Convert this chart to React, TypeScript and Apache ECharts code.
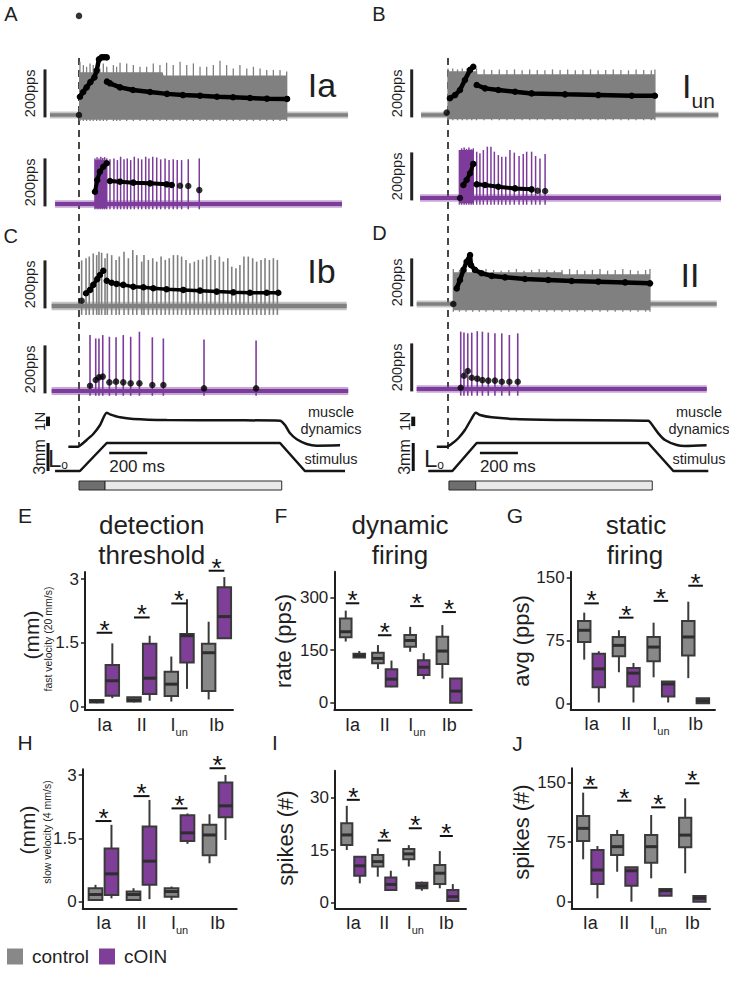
import React, { useEffect, useRef } from "react";
import * as echarts from "echarts";

const FONT = "'Liberation Sans', Arial, Helvetica, sans-serif";
const INK = "#1f1f1f";
const GRAY_TRACE = "#808080";
const PURPLE_TRACE = "#7d3c9b";
const GRAY_BOX = "#888888";
const PURPLE_BOX = "#7f3f99";
const BOX_EDGE = "#3a3a3a";

/* ===== Spike trains A-D : time (ms) from stretch onset, voltage (a.u.), instantaneous rate (pps) ===== */
// A - Ia
const aGrayBand = [-153, 1416];
const aGraySpikeT = [5, 23, 40, 58, 75, 93, 110, 128, 146, 181, 198, 216, 251, 286, 321, 356, 391, 426, 461, 496, 532, 567, 602, 637, 672, 707, 742, 777, 812, 847, 883, 918, 953, 988, 1023, 1058, 1093];
const aGraySpikeV = [222, 208, 201, 215, 208, 201, 194, 215, 201, 208, 201, 218, 215, 208, 201, 201, 215, 208, 218, 208, 222, 208, 215, 201, 201, 208, 226, 208, 194, 208, 194, 201, 194, 188, 188, 188, 181];
const aGrayTrough = -25;
const aGrayBodyT = [0, 440, 445, 1095];
const aGrayBodyV = [178, 178, 165, 165];
const aGrayRateIsoT = [0, 0];
const aGrayRateIsoV = [0, 413];
const aGrayRateDynT = [5, 22, 40, 60, 81, 93, 105, 119, 132, 146];
const aGrayRateDynV = [76, 96, 115, 137, 157, 185, 232, 240, 241, 240];
const aGrayRateStatT = [147, 163, 216, 284, 374, 463, 547, 637, 726, 811, 900, 989, 1095];
const aGrayRateStatV = [139, 132, 115, 104, 96, 88, 83, 80, 76, 74, 71, 68, 67];

const aCoinBand = [-126, 1384];
const aCoinSpikeT = [84, 95, 105, 115, 125, 135, 146, 163, 184, 202, 219, 237, 254, 272, 291, 312, 330, 351, 368, 388, 409, 430, 453, 474, 496, 517, 540, 575, 633];
const aCoinSpikeV = [190, 195, 190, 197, 192, 195, 190, 186, 190, 183, 197, 186, 190, 183, 197, 190, 186, 197, 190, 197, 194, 186, 190, 183, 186, 183, 183, 186, 190];
const aCoinTrough = -22;
const aCoinBodyT = [84, 146];
const aCoinBodyV = [183, 183];
const aCoinRateDynT = [84, 96, 110, 128, 146];
const aCoinRateDynV = [51, 100, 135, 155, 170];
const aCoinRateStatT = [163, 216, 286, 374, 461, 488];
const aCoinRateStatV = [96, 93, 89, 86, 82, 79];
const aCoinRateIsoT = [532, 575, 633];
const aCoinRateIsoV = [76, 75, 58];

// B - Iun
const bGrayBand = [-142, 1423];
const bGraySpikeT = [0, 25, 50, 75, 100, 125, 150, 190, 230, 270, 310, 350, 390, 430, 470, 510, 550, 590, 630, 670, 710, 750, 790, 830, 870, 910, 950, 990, 1030, 1070, 1089];
const bGraySpikeV = [194, 194, 190, 194, 194, 190, 194, 190, 188, 190, 188, 190, 186, 190, 188, 186, 190, 188, 190, 186, 188, 190, 186, 188, 190, 188, 186, 190, 188, 186, 190];
const bGrayTrough = -22;
const bGrayBodyT = [0, 150, 155, 1089];
const bGrayBodyV = [182, 182, 170, 170];
const bGrayRateIsoT = [-7];
const bGrayRateIsoV = [10];
const bGrayRateDynT = [10, 37, 63, 89, 116, 133];
const bGrayRateDynV = [70, 83, 104, 146, 188, 201];
const bGrayRateStatT = [151, 195, 265, 353, 440, 616, 791, 967, 1089];
const bGrayRateStatV = [125, 111, 104, 97, 90, 86, 83, 80, 80];

const bCoinBand = [-147, 1437];
const bCoinSpikeT = [60, 72, 85, 97, 110, 122, 133, 151, 168, 186, 207, 226, 244, 265, 283, 304, 326, 349, 374, 396, 414, 440, 461, 484, 511];
const bCoinSpikeV = [200, 207, 210, 205, 210, 203, 207, 193, 186, 200, 214, 214, 193, 179, 172, 172, 200, 189, 175, 183, 193, 193, 175, 165, 183];
const bCoinTrough = -28;
const bCoinBodyT = [60, 133];
const bCoinBodyV = [200, 200];
const bCoinRateIsoT = [63, 472, 511];
const bCoinRateIsoV = [0, 30, 29];
const bCoinRateDynT = [81, 98, 116, 133];
const bCoinRateDynV = [54, 75, 103, 142];
const bCoinRateStatT = [151, 195, 265, 353, 440];
const bCoinRateStatV = [57, 54, 47, 40, 36];

// C - Ib
const cGrayBand = [-144, 1409];
const cGraySpikeT = [14, 37, 54, 75, 93, 105, 119, 137, 149, 172, 195, 212, 237, 260, 283, 304, 330, 342, 365, 388, 409, 432, 454, 475, 497, 519, 540, 563, 584, 607, 628, 651, 672, 693, 716, 739, 760, 783, 804, 826, 847, 868, 891, 914, 935, 958, 979, 1002, 1023, 1044];
const cGraySpikeV = [190, 199, 206, 219, 212, 226, 222, 199, 219, 212, 192, 206, 226, 199, 233, 212, 185, 212, 192, 199, 185, 206, 192, 199, 212, 212, 206, 192, 178, 185, 192, 194, 206, 212, 192, 206, 185, 199, 164, 157, 171, 206, 206, 199, 185, 192, 199, 192, 199, 192];
const cGrayTrough = -37;
const cGrayRateIsoT = [14];
const cGrayRateIsoV = [22];
const cGrayRateDynT = [37, 58, 75, 96, 110, 128];
const cGrayRateDynV = [53, 67, 88, 112, 129, 147];
const cGrayRateStatT = [146, 172, 198, 233, 286, 339, 391, 461, 549, 637, 725, 812, 900, 988, 1049];
const cGrayRateStatV = [105, 97, 92, 88, 80, 78, 74, 70, 67, 64, 60, 57, 55, 55, 55];

const cCoinBand = [-144, 1417];
const cCoinSpikeT = [58, 88, 105, 125, 160, 195, 233, 272, 318, 386, 444, 658, 932];
const cCoinSpikeV = [233, 219, 219, 233, 226, 224, 233, 226, 247, 224, 219, 215, 210];
const cCoinTrough = -20;
const cCoinRateT = [58, 88, 105, 125, 160, 195, 233, 272, 318, 386, 444, 658, 932];
const cCoinRateV = [22, 46, 57, 60, 36, 39, 36, 32, 32, 25, 25, 11, 11];

// D - II
const dGrayBand = [-165, 1414];
const dGraySpikeT = [28, 60, 95, 130, 165, 200, 240, 280, 320, 360, 400, 440, 480, 520, 560, 600, 640, 680, 720, 760, 800, 840, 880, 920, 960, 1000, 1040, 1063];
const dGraySpikeV = [146, 142, 146, 142, 139, 146, 142, 139, 142, 146, 139, 142, 146, 142, 139, 142, 146, 142, 139, 142, 146, 139, 142, 146, 142, 139, 142, 146];
const dGrayTrough = -32;
const dGrayBodyT = [28, 600, 605, 1063];
const dGrayBodyV = [132, 132, 124, 124];
const dGrayRateIsoT = [28];
const dGrayRateIsoV = [0];
const dGrayRateT = [46, 63, 81, 98, 116, 121, 142, 177, 230, 300, 405, 528, 651, 791, 932, 1063];
const dGrayRateV = [65, 100, 142, 176, 204, 162, 142, 128, 117, 111, 104, 100, 96, 93, 90, 86];

const dCoinBand = [-165, 1362];
const dCoinSpikeT = [67, 84, 104, 125, 154, 181, 212, 247, 283, 323, 367];
const dCoinSpikeV = [239, 235, 232, 235, 241, 239, 235, 232, 232, 225, 232];
const dCoinTrough = -28;
const dCoinRateT = [67, 84, 104, 125, 154, 181, 212, 247, 283, 323, 367];
const dCoinRateV = [5, 55, 75, 47, 43, 37, 35, 35, 30, 30, 30];

/* ===== muscle force (N) and stimulus length (mm) ===== */
const lMuscleT = [-56, -4, 14, 40, 75, 111, 146, 163, 216, 286, 462, 812, 1058, 1084, 1111, 1146, 1198, 1251, 1374];
const lMuscleN = [0.03, 0.03, 0.28, 0.74, 1.37, 2.32, 3.61, 3.44, 3.13, 2.95, 2.84, 2.81, 2.77, 2.32, 1.44, 0.81, 0.32, 0.14, 0.18];
const lStimT = [-126, 5, 146, 1058, 1189, 1400];
const lStimMm = [0, 0, 3, 3, 0, 0];
const lPhaseT = [0, 137, 1067];
const rMuscleT = [-59, -7, 23, 54, 89, 125, 146, 168, 230, 353, 616, 1054, 1075, 1107, 1142, 1204, 1247, 1361];
const rMuscleN = [0.03, 0.03, 0.39, 0.92, 1.79, 3.02, 3.61, 3.37, 3.13, 2.95, 2.84, 2.77, 2.32, 1.44, 0.74, 0.21, 0.11, 0.18];
const rStimT = [-104, 23, 151, 1054, 1186, 1370];
const rStimMm = [0, 0, 3, 3, 0, 0];
const rPhaseT = [5, 146, 1075];

/* ===== box plots: [min, q1, median, q3, max] per afferent ===== */
const categories = ["Ia", "II", "Iun", "Ib"];
const eTicks = [0, 1.5, 3];
const eControl = [[0.08, 0.1, 0.13, 0.16, 0.18], [0.1, 0.12, 0.16, 0.22, 0.23], [0.12, 0.25, 0.53, 0.82, 1.18], [0.17, 0.37, 1.27, 1.48, 2.0]];
const eCoin = [[0.2, 0.26, 0.61, 0.98, 1.49], [0.14, 0.3, 0.67, 1.48, 1.67], [0.42, 1.04, 1.67, 1.71, 2.53], [1.6, 1.61, 2.12, 2.81, 3.05]];
const eSig = [1.74, 2.1, 2.43, 3.2];
const fTicks = [0, 150, 300];
const fControl = [[174, 186, 202, 240, 262], [96, 112, 126, 142, 164], [145, 159, 177, 193, 216], [69, 110, 147, 188, 221]];
const fCoin = [[127, 129, 134, 139, 147], [44, 46, 67, 95, 120], [67, 79, 101, 121, 141], [0, 0, 33, 69, 69]];
const fSig = [283, 192, 275, 258];
const gTicks = [0, 75, 150];
const gControl = [[52, 73, 87, 98, 108], [37, 56, 69, 79, 87], [31, 50, 67, 79, 96], [30, 57, 79, 98, 121]];
const gCoin = [[1, 19, 41, 59, 62], [1, 20, 36, 42, 48], [1, 8, 23, 26, 26], [0, 0, 3, 6, 6]];
const gSig = [119, 102, 122, 140];
const hTicks = [0, 1.5, 3];
const hControl = [[0.04, 0.04, 0.17, 0.32, 0.4], [0.04, 0.04, 0.17, 0.24, 0.32], [0.04, 0.12, 0.24, 0.32, 0.36], [0.91, 1.1, 1.58, 1.82, 2.07]];
const hCoin = [[0.08, 0.16, 0.66, 1.26, 1.82], [0.06, 0.4, 0.96, 1.78, 2.41], [1.37, 1.44, 1.63, 2.05, 2.09], [1.46, 2.0, 2.27, 2.82, 3.0]];
const hSig = [1.91, 2.5, 2.21, 3.16];
const iTicks = [0, 15, 30];
const iControl = [[15, 16.4, 19.3, 22.6, 27.6], [7.4, 10.3, 11.7, 13.6, 15.5], [10.3, 12.4, 13.9, 15.3, 16.4], [4.1, 5.3, 8.4, 10.7, 14.7]];
const iCoin = [[5.5, 7.7, 10.5, 13.1, 13.3], [3.4, 3.6, 5.2, 7.2, 9.1], [3.4, 4.1, 4.8, 5.7, 6], [0.5, 0.5, 1.7, 3.6, 5.3]];
const iSig = [29.3, 17.7, 21.2, 19];
const jTicks = [0, 75, 150];
const jControl = [[53.5, 76.5, 92.5, 108, 137.5], [37.8, 59, 69.4, 84, 90.4], [29.5, 49.2, 69.4, 84, 109.3], [35.8, 68.6, 84, 106, 130.4]];
const jCoin = [[4.3, 22.3, 40, 65.2, 70.2], [0, 20.2, 39, 43.4, 43.8], [7.6, 7.6, 13.9, 16, 16], [0, 0, 4.3, 7.2, 7.2]];
const jSig = [143.8, 127.4, 119, 149.3];

/* ===== layout ===== */
const PX_MS = 0.19;
const T_MIN = -200;
const COL_T0 = [79, 448];
const COL_TMAX = [1420, 1440];
const PX_UNIT = 0.24;
const TR_MIN = -100;
const TR_MAX = 450;
const SCALE_PPS = [-10, 190];

function colGrid(col: number, top: number, height: number) {
  return { left: COL_T0[col] + T_MIN * PX_MS, top, width: (COL_TMAX[col] - T_MIN) * PX_MS, height };
}

function pairs(ts: number[], vs: number[]) {
  return ts.map((t, i) => [t, vs[i]]);
}

function buildOption() {
  const grids: any[] = [];
  const xAxes: any[] = [];
  const yAxes: any[] = [];
  const series: any[] = [];

  const traces: any[] = [
    { name: "Ia control", col: 0, base: 115, color: GRAY_TRACE, band: aGrayBand, half: 15, trough: aGrayTrough, st: aGraySpikeT, sv: aGraySpikeV, sw: 1.3, bt: aGrayBodyT, bv: aGrayBodyV, iso: [aGrayRateIsoT, aGrayRateIsoV], lines: [[aGrayRateDynT, aGrayRateDynV], [aGrayRateStatT, aGrayRateStatV]], lw: 4.5, barT: -179 },
    { name: "Ia cOIN", col: 0, base: 204, color: PURPLE_TRACE, band: aCoinBand, half: 16, trough: aCoinTrough, st: aCoinSpikeT, sv: aCoinSpikeV, sw: 1.5, bt: aCoinBodyT, bv: aCoinBodyV, iso: [aCoinRateIsoT, aCoinRateIsoV], lines: [[aCoinRateDynT, aCoinRateDynV], [aCoinRateStatT, aCoinRateStatV]], lw: 4, barT: -179 },
    { name: "Ib control", col: 0, base: 306, color: GRAY_TRACE, band: cGrayBand, half: 18, trough: cGrayTrough, st: cGraySpikeT, sv: cGraySpikeV, sw: 1.6, iso: [cGrayRateIsoT, cGrayRateIsoV], lines: [[cGrayRateDynT, cGrayRateDynV], [cGrayRateStatT, cGrayRateStatV]], lw: 3.5, barT: -179 },
    { name: "Ib cOIN", col: 0, base: 391, color: PURPLE_TRACE, band: cCoinBand, half: 17, trough: cCoinTrough, st: cCoinSpikeT, sv: cCoinSpikeV, sw: 1.6, iso: [cCoinRateT, cCoinRateV], lines: [], lw: 0, barT: -179 },
    { name: "Iun control", col: 1, base: 115, color: GRAY_TRACE, band: bGrayBand, half: 14, trough: bGrayTrough, st: bGraySpikeT, sv: bGraySpikeV, sw: 1.3, bt: bGrayBodyT, bv: bGrayBodyV, iso: [bGrayRateIsoT, bGrayRateIsoV], lines: [[bGrayRateDynT, bGrayRateDynV], [bGrayRateStatT, bGrayRateStatV]], lw: 4.5, barT: -191 },
    { name: "Iun cOIN", col: 1, base: 198, color: PURPLE_TRACE, band: bCoinBand, half: 16, trough: bCoinTrough, st: bCoinSpikeT, sv: bCoinSpikeV, sw: 1.5, bt: bCoinBodyT, bv: bCoinBodyV, iso: [bCoinRateIsoT, bCoinRateIsoV], lines: [[bCoinRateDynT, bCoinRateDynV], [bCoinRateStatT, bCoinRateStatV]], lw: 4, barT: -191 },
    { name: "II control", col: 1, base: 304, color: GRAY_TRACE, band: dGrayBand, half: 15, trough: dGrayTrough, st: dGraySpikeT, sv: dGraySpikeV, sw: 1.3, bt: dGrayBodyT, bv: dGrayBodyV, iso: [dGrayRateIsoT, dGrayRateIsoV], lines: [[dGrayRateT, dGrayRateV]], lw: 4.5, barT: -191 },
    { name: "II cOIN", col: 1, base: 389, color: PURPLE_TRACE, band: dCoinBand, half: 16, trough: dCoinTrough, st: dCoinSpikeT, sv: dCoinSpikeV, sw: 1.6, iso: [dCoinRateT, dCoinRateV], lines: [], lw: 0, barT: -191 },
  ];

  // dashed onset markers (one overlay grid per column)
  [
    { col: 0, top: 58, bottom: 447 },
    { col: 1, top: 58, bottom: 452 },
  ].forEach((d) => {
    const gi = grids.length;
    grids.push(colGrid(d.col, d.top, d.bottom - d.top));
    const xi = xAxes.length;
    xAxes.push({ gridIndex: gi, type: "value", min: T_MIN, max: COL_TMAX[d.col], show: false });
    const yi = yAxes.length;
    yAxes.push({ gridIndex: gi, type: "value", min: 0, max: 1, show: false });
    series.push({
      type: "custom", name: "onset", xAxisIndex: xi, yAxisIndex: yi, z: 1, silent: true,
      data: [[0, 0]],
      renderItem: (p: any, api: any) => {
        const x = api.coord([api.value(0), 0])[0];
        const cs = p.coordSys;
        return { type: "line", shape: { x1: x, y1: cs.y, x2: x, y2: cs.y + cs.height }, style: { stroke: "#333", lineWidth: 1.8, lineDash: [7, 5] } };
      },
    });
  });

  traces.forEach((tr) => {
    const gi = grids.length;
    grids.push(colGrid(tr.col, tr.base - TR_MAX * PX_UNIT, (TR_MAX - TR_MIN) * PX_UNIT));
    const xi = xAxes.length;
    xAxes.push({ gridIndex: gi, type: "value", min: T_MIN, max: COL_TMAX[tr.col], show: false });
    const vi = yAxes.length;
    yAxes.push({ gridIndex: gi, type: "value", name: "a.u.", min: TR_MIN, max: TR_MAX, show: false });
    const ri = yAxes.length;
    yAxes.push({ gridIndex: gi, type: "value", name: "pps", min: TR_MIN, max: TR_MAX, show: false });
    const color = tr.color;
    series.push({
      type: "custom", name: tr.name + " baseline", xAxisIndex: xi, yAxisIndex: vi, z: 2, silent: true,
      data: [[tr.band[0], tr.band[1]]],
      renderItem: (p: any, api: any) => {
        const a = api.coord([api.value(0), tr.half]);
        const b = api.coord([api.value(1), -tr.half]);
        const c = api.coord([api.value(0), tr.half * 0.5]);
        const d = api.coord([api.value(1), -tr.half * 0.5]);
        return {
          type: "group",
          children: [
            { type: "rect", shape: { x: a[0], y: a[1], width: b[0] - a[0], height: b[1] - a[1] }, style: { fill: color, opacity: 0.45 } },
            { type: "rect", shape: { x: c[0], y: c[1], width: d[0] - c[0], height: d[1] - c[1] }, style: { fill: color } },
          ],
        };
      },
    });
    if (tr.bt) {
      series.push({
        type: "custom", name: tr.name + " burst", xAxisIndex: xi, yAxisIndex: vi, z: 2, silent: true,
        data: [[tr.bt[0], tr.bv[0]]],
        renderItem: (p: any, api: any) => {
          const pts: number[][] = tr.bt.map((t: number, i: number) => api.coord([t, tr.bv[i]]));
          for (let i = tr.bt.length - 1; i >= 0; i--) pts.push(api.coord([tr.bt[i], tr.trough * 0.8]));
          return { type: "polygon", shape: { points: pts }, style: { fill: color } };
        },
      });
    }
    series.push({
      type: "custom", name: tr.name + " spikes", xAxisIndex: xi, yAxisIndex: vi, z: 3, silent: true,
      data: tr.st.map((t: number, i: number) => [t, tr.sv[i], tr.trough]),
      encode: { x: 0, y: 1 },
      renderItem: (p: any, api: any) => {
        const a = api.coord([api.value(0), api.value(1)]);
        const b = api.coord([api.value(0), api.value(2)]);
        return { type: "line", shape: { x1: a[0], y1: a[1], x2: b[0], y2: b[1] }, style: { stroke: color, lineWidth: tr.sw } };
      },
    });
    tr.lines.forEach((ln: number[][]) => {
      series.push({
        type: "line", name: tr.name + " rate", xAxisIndex: xi, yAxisIndex: ri, z: 6, silent: true,
        data: pairs(ln[0], ln[1]), symbol: "circle", symbolSize: 6.5, showSymbol: true,
        lineStyle: { color: "#000", width: tr.lw }, itemStyle: { color: "#000" },
      });
    });
    series.push({
      type: "scatter", name: tr.name + " rate", xAxisIndex: xi, yAxisIndex: ri, z: 6, silent: true,
      data: pairs(tr.iso[0], tr.iso[1]), symbol: "circle", symbolSize: 6.5, itemStyle: { color: "#000" },
    });
    series.push({
      type: "custom", name: tr.name + " scale", xAxisIndex: xi, yAxisIndex: ri, z: 6, silent: true,
      data: [[tr.barT, SCALE_PPS[0], SCALE_PPS[1]]],
      renderItem: (p: any, api: any) => {
        const a = api.coord([api.value(0), api.value(1)]);
        const b = api.coord([api.value(0), api.value(2)]);
        return {
          type: "group",
          children: [
            { type: "line", shape: { x1: a[0], y1: a[1], x2: b[0], y2: b[1] }, style: { stroke: "#222", lineWidth: 3 } },
            { type: "text", x: a[0] - 15, y: (a[1] + b[1]) / 2, rotation: Math.PI / 2, style: { text: "200pps", fill: INK, fontSize: 14.5, fontFamily: FONT, align: "center", verticalAlign: "middle" } },
          ],
        };
      },
    });
  });

  // muscle / stimulus panels
  const stimCols = [
    { col: 0, mt: lMuscleT, mn: lMuscleN, stt: lStimT, stv: lStimMm, barT: -163, msBar: [159, 359], phases: lPhaseT },
    { col: 1, mt: rMuscleT, mn: rMuscleN, stt: rStimT, stv: rStimMm, barT: -183, msBar: [168, 368], phases: rPhaseT },
  ];
  stimCols.forEach((sc) => {
    const gi = grids.length;
    grids.push(colGrid(sc.col, 400, 78));
    const xi = xAxes.length;
    xAxes.push({ gridIndex: gi, type: "value", min: T_MIN, max: COL_TMAX[sc.col], show: false });
    const fi = yAxes.length;
    yAxes.push({ gridIndex: gi, type: "value", name: "N", min: -31 / 9.5, max: 47 / 9.5, show: false });
    const li = yAxes.length;
    yAxes.push({ gridIndex: gi, type: "value", name: "mm", min: -7 / 9.333, max: 71 / 9.333, show: false });
    series.push({ type: "line", name: "muscle dynamics", xAxisIndex: xi, yAxisIndex: fi, data: pairs(sc.mt, sc.mn), symbol: "none", smooth: 0.25, lineStyle: { color: "#151515", width: 2.5 }, silent: true });
    series.push({ type: "line", name: "stimulus", xAxisIndex: xi, yAxisIndex: li, data: pairs(sc.stt, sc.stv), symbol: "none", lineStyle: { color: "#151515", width: 2.5 }, silent: true });
    series.push({
      type: "custom", name: "force scale", xAxisIndex: xi, yAxisIndex: fi, silent: true,
      data: [[sc.barT, 2.2, 3.2]],
      renderItem: (p: any, api: any) => {
        const a = api.coord([api.value(0), api.value(1)]);
        const b = api.coord([api.value(0), api.value(2)]);
        return {
          type: "group",
          children: [
            { type: "line", shape: { x1: a[0], y1: a[1], x2: b[0], y2: b[1] }, style: { stroke: "#111", lineWidth: 4 } },
            { type: "text", x: a[0] - 9, y: (a[1] + b[1]) / 2, rotation: Math.PI / 2, style: { text: "1N", fill: INK, fontSize: 15, fontFamily: FONT, align: "center", verticalAlign: "middle" } },
          ],
        };
      },
    });
    series.push({
      type: "custom", name: "length scale", xAxisIndex: xi, yAxisIndex: li, silent: true,
      data: [[sc.barT, 0, 3]],
      renderItem: (p: any, api: any) => {
        const a = api.coord([api.value(0), api.value(1)]);
        const b = api.coord([api.value(0), api.value(2)]);
        return {
          type: "group",
          children: [
            { type: "line", shape: { x1: a[0], y1: a[1], x2: b[0], y2: b[1] }, style: { stroke: "#111", lineWidth: 3 } },
            { type: "text", x: a[0] - 9, y: (a[1] + b[1]) / 2, rotation: Math.PI / 2, style: { text: "3mm", fill: INK, fontSize: 16, fontFamily: FONT, align: "center", verticalAlign: "middle" } },
          ],
        };
      },
    });
    series.push({
      type: "custom", name: "time scale", xAxisIndex: xi, yAxisIndex: li, silent: true,
      data: [[sc.msBar[0], sc.msBar[1], 1.93]],
      renderItem: (p: any, api: any) => {
        const a = api.coord([api.value(0), api.value(2)]);
        const b = api.coord([api.value(1), api.value(2)]);
        return {
          type: "group",
          children: [
            { type: "line", shape: { x1: a[0], y1: a[1], x2: b[0], y2: b[1] }, style: { stroke: "#111", lineWidth: 2.5 } },
            { type: "text", x: a[0], y: a[1] + 14, style: { text: "200 ms", fill: INK, fontSize: 17, fontFamily: FONT, align: "left", verticalAlign: "middle" } },
          ],
        };
      },
    });
    // phase bar
    const gb = grids.length;
    grids.push(colGrid(sc.col, 481, 9));
    const xb = xAxes.length;
    xAxes.push({ gridIndex: gb, type: "value", min: T_MIN, max: COL_TMAX[sc.col], show: false });
    const yb = yAxes.length;
    yAxes.push({ gridIndex: gb, type: "value", min: 0, max: 1, show: false });
    series.push({
      type: "custom", name: "phases", xAxisIndex: xb, yAxisIndex: yb, silent: true,
      data: [[sc.phases[0], sc.phases[1], 0], [sc.phases[1], sc.phases[2], 1]],
      renderItem: (p: any, api: any) => {
        const a = api.coord([api.value(0), 1]);
        const b = api.coord([api.value(1), 0]);
        return { type: "rect", shape: { x: a[0], y: a[1], width: b[0] - a[0], height: b[1] - a[1] }, style: { fill: api.value(2) === 0 ? "#6e6e6e" : "#e9e9e9", stroke: "#2a2a2a", lineWidth: 1 } };
      },
    });
  });

  // box plots
  const boxPanels = [
    { left: 85, top: 572, width: 148, height: 138, xr: [0.478, 4.442], yr: [-0.078, 3.17], ticks: eTicks, control: eControl, coin: eCoin, sig: eSig },
    { left: 334.3, top: 571.7, width: 137.4, height: 138.3, xr: [0.435, 4.7], yr: [-20.8, 372.9], ticks: fTicks, control: fControl, coin: fCoin, sig: fSig },
    { left: 570.7, top: 571.7, width: 144.3, height: 137.6, xr: [0.4, 4.56], yr: [-7.1, 156.7], ticks: gTicks, control: gControl, coin: gCoin, sig: gSig },
    { left: 82.7, top: 769.3, width: 154, height: 139, xr: [0.453, 4.505], yr: [-0.156, 3.135], ticks: hTicks, control: hControl, coin: hCoin, sig: hSig },
    { left: 335, top: 770.7, width: 131, height: 137.6, xr: [0.41, 4.635], yr: [-1.6, 37.6], ticks: iTicks, control: iControl, coin: iCoin, sig: iSig },
    { left: 571.7, top: 768.3, width: 138.3, height: 140, xr: [0.453, 4.52], yr: [-8.3, 168.2], ticks: jTicks, control: jControl, coin: jCoin, sig: jSig },
  ];
  const OFF = 0.21;
  const HALF_W = 0.18;
  boxPanels.forEach((bp) => {
    const gi = grids.length;
    grids.push({ left: bp.left, top: bp.top, width: bp.width, height: bp.height });
    const xi = xAxes.length;
    xAxes.push({
      gridIndex: gi, type: "value", min: bp.xr[0], max: bp.xr[1],
      axisLine: { show: true, onZero: false, lineStyle: { color: INK, width: 2 } },
      axisTick: { show: false },
      splitLine: { show: false },
      axisLabel: {
        customValues: [1, 2, 3, 4], margin: 2, color: INK, fontFamily: FONT,
        formatter: (v: number) => {
          const c = categories[Math.round(v) - 1];
          return c === "Iun" ? "{main|I}{sub|un}" : "{main|" + c + "}";
        },
        rich: {
          main: { fontSize: 18, lineHeight: 25, fontFamily: FONT, color: INK },
          sub: { fontSize: 11, lineHeight: 11, padding: [14, 0, 0, 0], fontFamily: FONT, color: INK },
        },
      },
    });
    const yi = yAxes.length;
    yAxes.push({
      gridIndex: gi, type: "value", min: bp.yr[0], max: bp.yr[1],
      axisLine: { show: true, onZero: false, lineStyle: { color: INK, width: 2 } },
      axisTick: { show: true, length: 4, customValues: bp.ticks, lineStyle: { color: INK, width: 1.5 } },
      splitLine: { show: false },
      axisLabel: { customValues: bp.ticks, fontSize: 17, color: INK, fontFamily: FONT, margin: 6 },
    });
    const mk = (name: string, rows: number[][], off: number, fill: string) => ({
      type: "custom", name, xAxisIndex: xi, yAxisIndex: yi, z: 4, silent: true,
      itemStyle: { color: fill },
      data: rows.map((r, i) => [i + 1, r[0], r[1], r[2], r[3], r[4]]),
      encode: { x: 0, y: [1, 2, 3, 4, 5] },
      renderItem: (p: any, api: any) => {
        const c = api.value(0) + off;
        const xc = api.coord([c, 0])[0];
        const xl = api.coord([c - HALF_W, 0])[0];
        const xr = api.coord([c + HALF_W, 0])[0];
        const yMin = api.coord([c, api.value(1)])[1];
        const yQ1 = api.coord([c, api.value(2)])[1];
        const yMed = api.coord([c, api.value(3)])[1];
        const yQ3 = api.coord([c, api.value(4)])[1];
        const yMax = api.coord([c, api.value(5)])[1];
        return {
          type: "group",
          children: [
            { type: "line", shape: { x1: xc, y1: yMax, x2: xc, y2: yQ3 }, style: { stroke: BOX_EDGE, lineWidth: 2 } },
            { type: "line", shape: { x1: xc, y1: yQ1, x2: xc, y2: yMin }, style: { stroke: BOX_EDGE, lineWidth: 2 } },
            { type: "rect", shape: { x: xl, y: yQ3, width: xr - xl, height: Math.max(yQ1 - yQ3, 2) }, style: { fill, stroke: BOX_EDGE, lineWidth: 2 } },
            { type: "line", shape: { x1: xl, y1: yMed, x2: xr, y2: yMed }, style: { stroke: "#2e2e2e", lineWidth: 3 } },
          ],
        };
      },
    });
    series.push(mk("control", bp.control, -OFF, GRAY_BOX));
    series.push(mk("cOIN", bp.coin, OFF, PURPLE_BOX));
    series.push({
      type: "custom", name: "significance", xAxisIndex: xi, yAxisIndex: yi, z: 5, silent: true,
      data: bp.sig.map((v: number, i: number) => [i + 1, v]),
      renderItem: (p: any, api: any) => {
        const a = api.coord([api.value(0) - OFF, api.value(1)]);
        const b = api.coord([api.value(0) + OFF, api.value(1)]);
        return {
          type: "group",
          children: [
            { type: "line", shape: { x1: a[0], y1: a[1], x2: b[0], y2: b[1] }, style: { stroke: "#111", lineWidth: 2 } },
            { type: "text", x: (a[0] + b[0]) / 2, y: a[1] - 3, style: { text: "*", fill: "#111", fontSize: 26, fontFamily: FONT, align: "center", verticalAlign: "middle" } },
          ],
        };
      },
    });
  });

  const T = (text: string, x: number, y: number, size: number, rot = 0, align = "center") => ({
    type: "text", x, y, rotation: rot, silent: true, z: 50,
    style: { text, x: 0, y: 0, fill: INK, fontSize: size, fontFamily: FONT, align, verticalAlign: "middle" },
  });
  const RT = (text: string, x: number, y: number, rich: any) => ({
    type: "text", x, y, silent: true, z: 50,
    style: { text, x: 0, y: 0, fill: INK, fontFamily: FONT, align: "center", verticalAlign: "middle", rich },
  });
  const R = Math.PI / 2;
  const subLo = {
    big: { fontSize: 24, lineHeight: 26, fontFamily: FONT, fill: INK, color: INK },
    small: { fontSize: 12, lineHeight: 12, padding: [14, 0, 0, 0], fontFamily: FONT, fill: INK, color: INK },
  };
  const subUn = {
    big: { fontSize: 34, lineHeight: 36, fontFamily: FONT, fill: INK, color: INK },
    small: { fontSize: 21, lineHeight: 21, padding: [28, 0, 0, 0], fontFamily: FONT, fill: INK, color: INK },
  };
  const elements = [
    T("A", 10.8, 13.7, 20), T("B", 379, 13.7, 20), T("C", 10.8, 235.5, 20), T("D", 379.5, 233.3, 20),
    T("E", 25, 515.8, 21), T("F", 281, 515.8, 21), T("G", 515, 515.8, 21),
    T("H", 25, 742, 21), T("I", 275, 742, 21), T("J", 517.5, 743, 21),
    T("Ia", 322, 84.5, 34), RT("{big|I}{small|un}", 698.5, 86, subUn), T("Ib", 321.5, 271, 34), T("II", 690, 275, 34),
    T("muscle", 331, 412, 14.5), T("dynamics", 331, 428.5, 14.5), T("stimulus", 331, 458.5, 14.5),
    T("muscle", 699, 412, 14.5), T("dynamics", 699, 428.5, 14.5), T("stimulus", 699, 458.5, 14.5),
    RT("{big|L}{small|o}", 58, 458, subLo), RT("{big|L}{small|o}", 434, 458, subLo),
    T("detection", 151.7, 525, 26), T("threshold", 151.7, 555, 26),
    T("dynamic", 400, 525, 26), T("firing", 400, 555, 26),
    T("static", 636, 525, 26), T("firing", 635, 555, 26),
    T("(mm)", 31, 635, 21, R), T("fast velocity (20 mm/s)", 48, 639, 10.5, R),
    T("rate (pps)", 283, 641, 22, R), T("avg (pps)", 521.5, 641, 22, R),
    T("(mm)", 27, 830, 21, R), T("slow velocity (4 mm/s)", 47, 832, 10.5, R),
    T("spikes (#)", 285, 838, 22, R), T("spikes (#)", 521, 832, 22, R),
  ];

  return {
    animation: false,
    backgroundColor: "#ffffff",
    textStyle: { fontFamily: FONT },
    grid: grids,
    xAxis: xAxes,
    yAxis: yAxes,
    series,
    legend: {
      orient: "vertical", left: 7, top: 947, padding: 0, itemWidth: 16, itemHeight: 16, itemGap: 10,
      selectedMode: false,
      data: [
        { name: "control", icon: "rect", itemStyle: { color: GRAY_BOX, borderWidth: 0 } },
        { name: "cOIN", icon: "rect", itemStyle: { color: PURPLE_BOX, borderWidth: 0 } },
      ],
      textStyle: { fontSize: 19, color: INK, fontFamily: FONT, lineHeight: 16, padding: [0, 0, 0, 4] },
    },
    graphic: { elements },
  };
}

export default function App() {
  const ref = useRef<HTMLDivElement>(null);
  useEffect(() => {
    if (!ref.current) return;
    const chart = echarts.init(ref.current, undefined, { renderer: "svg", width: 729, height: 991 });
    chart.setOption(buildOption() as any);
    return () => chart.dispose();
  }, []);
  return <div ref={ref} style={{ position: "absolute", left: 0, top: 0, width: 729, height: 991, background: "#fff" }} />;
}
